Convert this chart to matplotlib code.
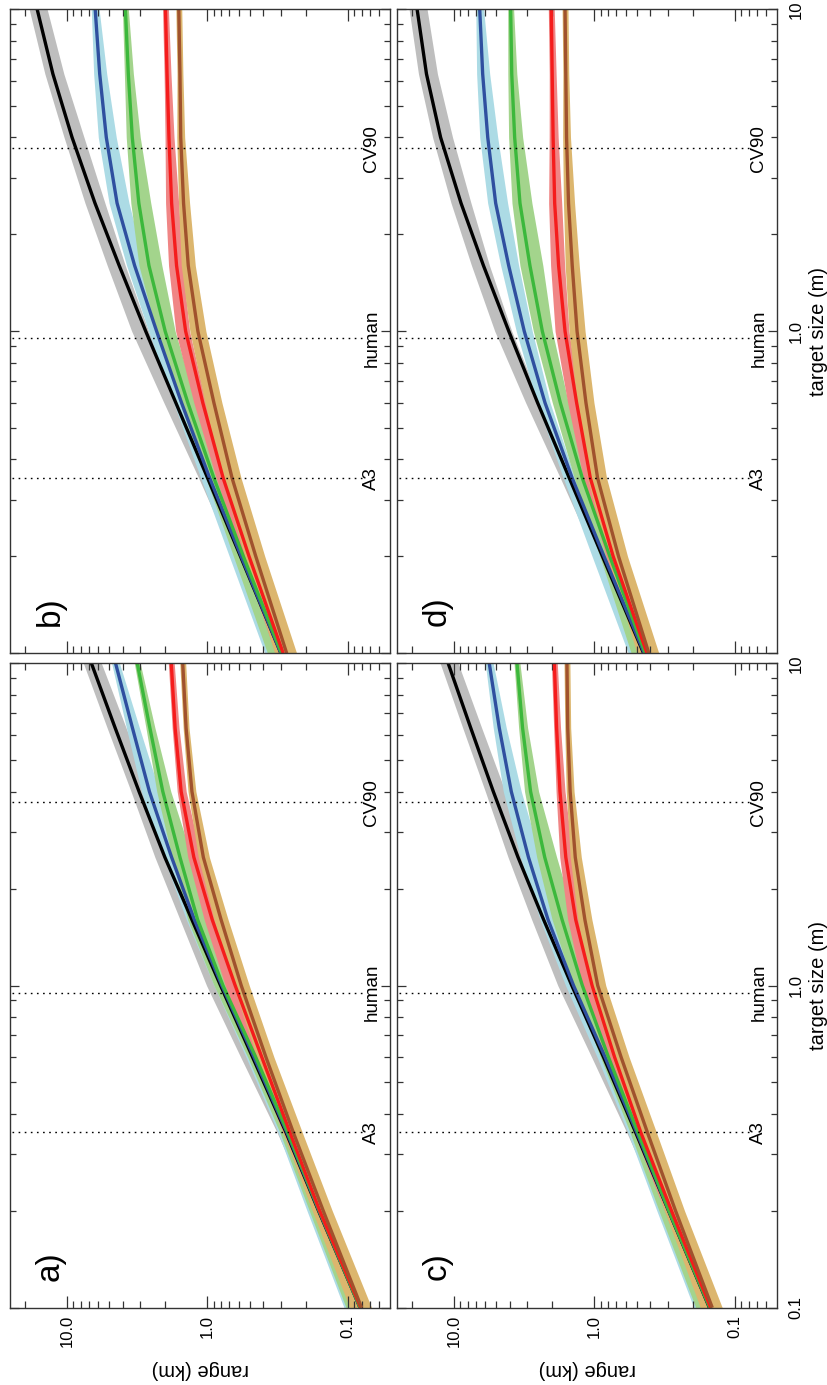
import numpy as np
import matplotlib
matplotlib.use("Agg")
import matplotlib.pyplot as plt
from matplotlib.ticker import FixedLocator, FixedFormatter, NullFormatter

plt.rcParams['font.family'] = ['Liberation Sans', 'DejaVu Sans']

# target size (m) at which the range curves are sampled
size_m = [0.1, 0.2, 0.35, 0.6, 1.0, 1.6, 2.5, 4.0, 6.3, 10.0]

# detection range (km) for each panel and each series
a_black = [0.082, 0.162, 0.276, 0.478, 0.807, 1.29, 2.01, 3.07, 4.54, 6.70]
a_blue = [0.082, 0.161, 0.272, 0.467, 0.790, 1.24, 1.80, 2.59, 3.42, 4.51]
a_green = [0.082, 0.160, 0.268, 0.454, 0.776, 1.175, 1.57, 2.08, 2.57, 3.16]
a_red = [0.081, 0.159, 0.259, 0.411, 0.635, 0.925, 1.25, 1.54, 1.70, 1.81]
a_brown = [0.080, 0.150, 0.245, 0.384, 0.575, 0.80, 1.07, 1.29, 1.42, 1.50]

b_black = [0.300, 0.582, 0.997, 1.68, 2.75, 4.25, 6.32, 9.2, 12.6, 16.3]
b_blue = [0.300, 0.575, 0.964, 1.53, 2.30, 3.30, 4.40, 5.25, 5.85, 6.30]
b_green = [0.297, 0.555, 0.900, 1.38, 2.00, 2.61, 3.08, 3.43, 3.66, 3.84]
b_red = [0.289, 0.506, 0.773, 1.08, 1.43, 1.66, 1.80, 1.88, 1.94, 1.99]
b_brown = [0.273, 0.453, 0.668, 0.90, 1.17, 1.37, 1.48, 1.55, 1.57, 1.60]

c_black = [0.152, 0.297, 0.509, 0.863, 1.45, 2.30, 3.50, 5.25, 7.60, 11.0]
c_blue = [0.151, 0.296, 0.500, 0.841, 1.41, 2.14, 2.95, 3.91, 4.76, 5.61]
c_green = [0.151, 0.295, 0.490, 0.796, 1.22, 1.70, 2.26, 2.85, 3.25, 3.56]
c_red = [0.149, 0.283, 0.468, 0.720, 1.04, 1.36, 1.60, 1.76, 1.86, 1.93]
c_brown = [0.145, 0.265, 0.420, 0.647, 0.948, 1.17, 1.37, 1.49, 1.55, 1.57]

d_black = [0.447, 0.877, 1.51, 2.54, 4.07, 6.17, 8.91, 12.45, 15.7, 18.3]
d_blue = [0.442, 0.855, 1.44, 2.25, 3.16, 4.08, 5.05, 5.75, 6.25, 6.56]
d_green = [0.435, 0.778, 1.22, 1.75, 2.35, 2.88, 3.39, 3.70, 3.88, 3.95]
d_red = [0.423, 0.736, 1.07, 1.34, 1.62, 1.80, 1.92, 1.97, 2.00, 2.03]
d_brown = [0.410, 0.674, 0.95, 1.15, 1.33, 1.44, 1.53, 1.58, 1.60, 1.62]

# spread of each series around its curve, in decades of range
# (toward longer range / toward shorter range)
gray_up = [0.036, 0.050, 0.064, 0.085, 0.100, 0.085, 0.071, 0.057, 0.057, 0.057]
gray_dn = [0.021, 0.021, 0.021, 0.021, 0.021, 0.043, 0.071, 0.085, 0.078, 0.071]
lblue_up = [0.114, 0.085, 0.064, 0.057, 0.057, 0.057, 0.057, 0.057, 0.043, 0.028]
lblue_dn = [0.014, 0.014, 0.021, 0.036, 0.057, 0.071, 0.085, 0.071, 0.050, 0.028]
lgreen_up = [0.100, 0.071, 0.057, 0.057, 0.064, 0.071, 0.057, 0.043, 0.028, 0.021]
lgreen_dn = [0.014, 0.021, 0.036, 0.057, 0.071, 0.092, 0.085, 0.057, 0.036, 0.021]
pink_up = [0.057, 0.050, 0.050, 0.064, 0.071, 0.057, 0.043, 0.028, 0.021, 0.021]
pink_dn = [0.014, 0.014, 0.014, 0.021, 0.028, 0.043, 0.050, 0.036, 0.028, 0.021]
tan_up = [0.085, 0.078, 0.071, 0.064, 0.057, 0.050, 0.036, 0.028, 0.021, 0.021]
tan_dn = [0.071, 0.064, 0.064, 0.057, 0.057, 0.050, 0.043, 0.028, 0.021, 0.021]

# reference target sizes (m)
ref_names = ['A3', 'human', 'CV90']
ref_sizes = [0.35, 0.95, 3.7]

range_ticks = [0.1, 1.0, 10.0]
range_ticklabels = ['0.1', '1.0', '10.0']
size_ticks = [0.1, 1.0, 10.0]
size_ticklabels = ['0.1', '1.0', '10']

line_colors = ['#000000', '#2f4f9f', '#3cb83c', '#f51c1c', '#a0522d']
band_colors = ['#bebebe', '#acdbe5', '#a3d48c', '#f08585', '#dcb66e']
band_spread = [(gray_up, gray_dn), (lblue_up, lblue_dn), (lgreen_up, lgreen_dn),
               (pink_up, pink_dn), (tan_up, tan_dn)]

panels = {
    'a': [a_black, a_blue, a_green, a_red, a_brown],
    'b': [b_black, b_blue, b_green, b_red, b_brown],
    'c': [c_black, c_blue, c_green, c_red, c_brown],
    'd': [d_black, d_blue, d_green, d_red, d_brown],
}

W, H = 828, 1385
fig = plt.figure(figsize=(W / 100, H / 100), dpi=100)

# panel boxes in pixels: left, top, right, bottom
boxes = {
    'a': (10, 663.3, 390, 1307.7),
    'b': (10, 9.3, 390, 653.3),
    'c': (397, 663.3, 777, 1307.7),
    'd': (397, 9.3, 777, 653.3),
}

minor_range = [m * 10.0 ** e for e in (-2, -1, 0, 1) for m in range(2, 10)]
minor_size = [m * 10.0 ** e for e in (-1, 0) for m in range(2, 10)]
size_arr = np.array(size_m)

for key, series in panels.items():
    x0, y0, x1, y1 = boxes[key]
    ax = fig.add_axes([x0 / W, 1 - y1 / H, (x1 - x0) / W, (y1 - y0) / H])
    ax.set_xscale('log')
    ax.set_yscale('log')

    for vals, bc, (up, dn) in zip(series, band_colors, band_spread):
        v = np.array(vals)
        ax.fill_betweenx(size_arr, v / 10 ** np.array(dn),
                         v * 10 ** np.array(up), color=bc, lw=0)
    for vals, lc in zip(series, line_colors):
        ax.plot(vals, size_m, color=lc, lw=2.4, solid_capstyle='butt',
                solid_joinstyle='round')

    for name, s in zip(ref_names, ref_sizes):
        ax.plot([0.08, 40], [s, s], color='black', lw=1.0,
                linestyle=(0, (1.2, 3.2)))
        ax.text(0.0675, s, name, rotation=90, ha='center', va='center',
                fontsize=13.5)

    ax.text(0.105, 0.065, key + ')', transform=ax.transAxes, rotation=90,
            ha='center', va='center', fontsize=24)

    ax.set_xlim(25.45, 0.0502)
    ax.set_ylim(0.1, 10)

    ax.xaxis.set_major_locator(FixedLocator(range_ticks))
    ax.xaxis.set_minor_locator(FixedLocator(minor_range))
    ax.yaxis.set_major_locator(FixedLocator(size_ticks))
    ax.yaxis.set_minor_locator(FixedLocator(minor_size))
    ax.xaxis.set_minor_formatter(NullFormatter())
    ax.yaxis.set_minor_formatter(NullFormatter())

    bottom_row = key in ('a', 'c')
    right_col = key in ('c', 'd')
    ax.tick_params(axis='x', which='major', direction='in', length=8.6,
                   width=0.9, top=True, bottom=True, labelbottom=bottom_row,
                   labelsize=12, labelrotation=90, pad=5, color='#333333')
    ax.tick_params(axis='x', which='minor', direction='in', length=5.0,
                   width=0.9, top=True, bottom=True, color='#333333')
    ax.tick_params(axis='y', which='major', direction='in', length=6.5,
                   width=0.9, left=True, right=True, labelleft=False,
                   labelright=right_col, labelsize=12, labelrotation=90,
                   pad=8.5, color='#333333')
    ax.tick_params(axis='y', which='minor', direction='in', length=4.3,
                   width=0.9, left=True, right=True, color='#333333')
    ax.xaxis.set_major_formatter(FixedFormatter(range_ticklabels))
    if key == 'd':
        ax.yaxis.set_major_formatter(FixedFormatter(['', '1.0', '10']))
    else:
        ax.yaxis.set_major_formatter(FixedFormatter(size_ticklabels))
    for lab in ax.get_yticklabels():
        lab.set_va('center')
    for sp in ax.spines.values():
        sp.set_linewidth(1.0)
        sp.set_color('#333333')

    if bottom_row:
        fig.text(((x0 + x1) / 2) / W, 1 - 1370 / H, 'range (km)',
                 rotation=180, ha='center', va='center', fontsize=14.5)
    if right_col:
        fig.text(819 / W, 1 - ((y0 + y1) / 2) / H, 'target size (m)',
                 rotation=90, ha='center', va='center', fontsize=14.5)

fig.savefig('out.png', dpi=100)
